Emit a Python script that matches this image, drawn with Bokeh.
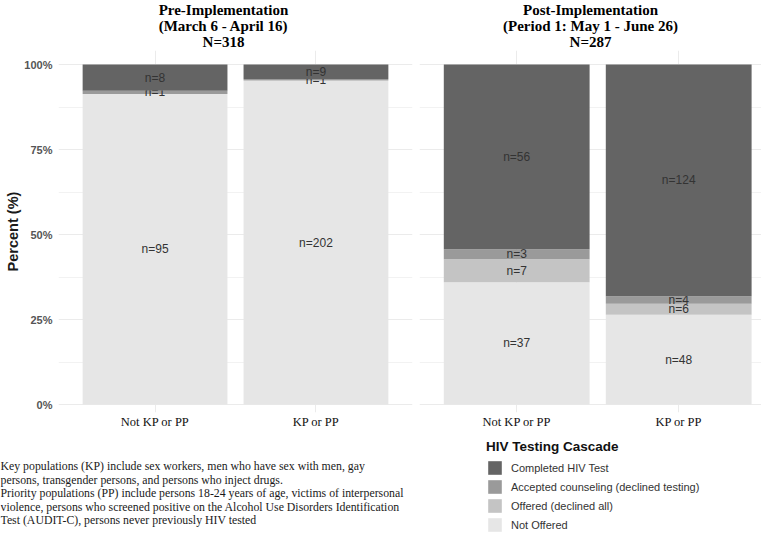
from bokeh.plotting import figure
from bokeh.layouts import column, row
from bokeh.models import (ColumnDataSource, Range1d, FixedTicker, NumeralTickFormatter,
                          Label, Legend, LegendItem)
from bokeh.core.properties import value
from bokeh.embed import file_html
from bokeh.resources import INLINE

# ---------------- data ----------------
categories = ["Not KP or PP", "KP or PP"]
cascade = ["Completed HIV Test", "Accepted counseling (declined testing)",
           "Offered (declined all)", "Not Offered"]
cascade_colors = ["#646464", "#9a9a9a", "#c4c4c4", "#e6e6e6"]

pre_title = ["Pre-Implementation", "(March 6 - April 16)", "N=318"]
post_title = ["Post-Implementation", "(Period 1: May 1 - June 26)", "N=287"]

pre_completed = [8, 9]
pre_accepted = [1, 1]
pre_offered = [0, 0]
pre_not_offered = [95, 202]

post_completed = [56, 124]
post_accepted = [3, 4]
post_offered = [7, 6]
post_not_offered = [37, 48]

y_ticks = [0, 0.25, 0.5, 0.75, 1.0]
y_minor = [0.125, 0.375, 0.625, 0.875]

footnote = [
    "Key populations (KP) include sex workers, men who have sex with men, gay",
    "persons, transgender persons, and persons who inject drugs.",
    "Priority populations (PP) include persons 18-24 years of age, victims of interpersonal",
    "violence, persons who screened positive on the Alcohol Use Disorders Identification",
    "Test (AUDIT-C), persons never previously HIV tested",
]
legend_title = "HIV Testing Cascade"

SANS = "Liberation Sans"
SERIF = "Liberation Serif"

TITLE_H = 50
FIG_H = 382
BOTTOM = 20
FOOT_H = 533 - TITLE_H - FIG_H


def make_panel(series, width, left, right, x_end, show_y):
    p = figure(width=width, height=FIG_H, x_range=Range1d(0.4, x_end),
               y_range=Range1d(-0.0235, 1.0412), toolbar_location=None,
               output_backend="svg", min_border_left=left, min_border_right=right,
               min_border_top=0, min_border_bottom=BOTTOM,
               y_axis_location="left" if show_y else None)
    p.outline_line_color = None
    p.background_fill_color = "white"
    p.border_fill_color = "white"

    xs = [i + 1 for i in range(len(categories))]
    totals = [sum(s[i] for s in series) for i in range(len(categories))]
    # stack from bottom: Not Offered, Offered, Accepted, Completed
    order = list(range(len(cascade)))[::-1]
    base = [0.0] * len(categories)
    for k in order:
        counts = series[k]
        bottoms = list(base)
        tops = [b + c / t for b, c, t in zip(bottoms, counts, totals)]
        base = tops
        src = ColumnDataSource(dict(x=xs, bottom=bottoms, top=tops))
        p.vbar(x="x", bottom="bottom", top="top", width=0.9, source=src,
               fill_color=cascade_colors[k], line_color=None)
        lx, ly, lt = [], [], []
        for x, b, t, c in zip(xs, bottoms, tops, counts):
            if c > 0:
                lx.append(x)
                ly.append((b + t) / 2)
                lt.append(f"n={c}")
        tsrc = ColumnDataSource(dict(x=lx, y=ly, text=lt))
        p.text(x="x", y="y", text="text", source=tsrc, text_font=value(SANS),
               text_font_size=value("12px"), text_align="center",
               text_baseline="middle", text_color="#333333")

    # grids
    p.xgrid.ticker = FixedTicker(ticks=xs)
    p.xgrid.grid_line_color = "#ebebeb"
    p.ygrid.ticker = FixedTicker(ticks=y_ticks, minor_ticks=y_minor)
    p.ygrid.grid_line_color = "#ebebeb"
    p.ygrid.minor_grid_line_color = "#f2f2f2"

    # x axis
    xa = p.xaxis[0]
    xa.ticker = FixedTicker(ticks=xs)
    xa.major_label_overrides = {x: c for x, c in zip(xs, categories)}
    xa.major_label_text_font = SERIF
    xa.major_label_text_font_size = "12.5px"
    xa.major_label_text_color = "#111111"
    xa.major_tick_line_color = None
    xa.minor_tick_line_color = None
    xa.axis_line_color = None
    xa.major_tick_out = 0
    xa.major_label_standoff = 2

    if show_y:
        ya = p.yaxis[0]
        ya.ticker = FixedTicker(ticks=y_ticks)
        ya.formatter = NumeralTickFormatter(format="0%")
        ya.major_label_text_font = SANS
        ya.major_label_text_font_size = "11px"
        ya.major_label_text_font_style = "bold"
        ya.major_label_text_color = "#555555"
        ya.major_tick_line_color = None
        ya.minor_tick_line_color = None
        ya.axis_line_color = None
        ya.major_tick_out = 0
        ya.major_tick_in = 0
        ya.major_label_standoff = 6
        ya.axis_label = "Percent (%)"
        ya.axis_label_text_font = SANS
        ya.axis_label_text_font_size = "14.5px"
        ya.axis_label_text_font_style = "bold"
        ya.axis_label_text_color = "#1a1a1a"
        ya.axis_label_standoff = 0
    return p


pre_series = [pre_completed, pre_accepted, pre_offered, pre_not_offered]
post_series = [post_completed, post_accepted, post_offered, post_not_offered]

p1 = make_panel(pre_series, width=415, left=58, right=3, x_end=2.6, show_y=True)
p2 = make_panel(post_series, width=346, left=4, right=0,
                x_end=0.4 + 342 / 162, show_y=False)

# ---------------- titles ----------------
pt = figure(width=761, height=TITLE_H, x_range=Range1d(0, 1), y_range=Range1d(0, 1),
            toolbar_location=None, output_backend="svg", min_border=0,
            x_axis_location=None, y_axis_location=None)
pt.outline_line_color = None
pt.xgrid.visible = False
pt.ygrid.visible = False
for lines, cx in ((pre_title, 223), (post_title, 590)):
    for line, cy in zip(lines, [9, 25, 41]):
        pt.add_layout(Label(x=cx, y=TITLE_H - cy, x_units="screen", y_units="screen",
                            text=line, text_font=SERIF, text_font_size="15px",
                            text_font_style="bold", text_align="center",
                            text_baseline="middle", text_color="#000000"))

# ---------------- bottom: footnote + legend ----------------
p3 = figure(width=761, height=FOOT_H, x_range=Range1d(0, 1), y_range=Range1d(0, 1),
            toolbar_location=None, output_backend="svg", min_border=0,
            x_axis_location=None, y_axis_location=None)
p3.outline_line_color = None
p3.xgrid.visible = False
p3.ygrid.visible = False

for line, cy in zip(footnote, [465.5, 479, 492.5, 506, 519.5]):
    p3.add_layout(Label(x=0, y=533 - cy, x_units="screen", y_units="screen", text=line,
                        text_font=SERIF, text_font_size="11.8px",
                        text_baseline="middle", text_align="left",
                        text_color="#1a1a1a"))

nan = float("nan")
leg_src = ColumnDataSource(dict(x=[nan] * len(cascade), top=[nan] * len(cascade),
                                color=cascade_colors, name=cascade))
r = p3.vbar(x="x", top="top", width=1, fill_color="color", line_color=None,
            source=leg_src)
items = [LegendItem(label=name, renderers=[r], index=i) for i, name in enumerate(cascade)]

legend = Legend(items=items, location=(486, 0), title=legend_title,
                title_text_font=SANS, title_text_font_size="13.5px",
                title_text_font_style="bold", title_text_color="#111111",
                title_standoff=5,
                label_text_font=SANS, label_text_font_size="11px",
                label_text_color="#333333", glyph_width=17, glyph_height=17,
                label_height=17, spacing=2, padding=0, margin=0,
                label_standoff=8, border_line_color=None,
                background_fill_alpha=0)
p3.add_layout(legend)

layout = column(pt, row(p1, p2), p3)

with open("out.html", "w") as f:
    f.write(file_html(layout, INLINE))
